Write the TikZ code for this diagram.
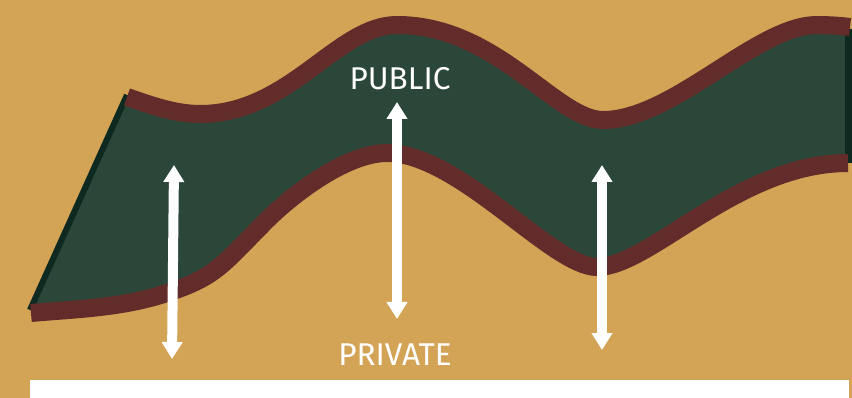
\documentclass[tikz,border=0pt]{standalone}
\usepackage{fontspec}
\setmainfont{Fira Sans}
\usetikzlibrary{arrows.meta}
\definecolor{bgtan}{HTML}{D3A356}
\definecolor{ribbongreen}{HTML}{2A4739}
\definecolor{bandred}{HTML}{612C29}
\definecolor{edgedark}{HTML}{0E2920}
\tikzset{
  band/.style={draw=bandred, line width=18pt},
  edge/.style={draw=edgedark, line width=6pt},
  updown/.style={draw=white, line width=10pt,
    {Triangle[width=20pt,length=17pt]}-{Triangle[width=20pt,length=17pt]}},
  lbl/.style={text=white, inner sep=0pt, font=\fontsize{31.5}{38}\selectfont}}
% upper and lower rim of the ribbon
\newcommand{\upperrim}{(127,97) .. controls (150,105) and (175,114) .. (200,114)
  .. controls (290,114) and (337,25) .. (397,25)
  .. controls (497,25) and (556,120) .. (603,120)
  .. controls (673,120) and (757,25) .. (817,25)
  .. controls (830,25) and (842,26) .. (850,27)}
\newcommand{\lowerrim}{(848,163) .. controls (738,163) and (650,267) .. (597,267)
  .. controls (552,267) and (459,153) .. (387,153)
  .. controls (345,153) and (290,197) .. (267,220)
  .. controls (222,265) and (217,276.5) .. (167,293)
  .. controls (122,308) and (76,309) .. (31,313)}

\begin{document}
\begin{tikzpicture}[x=1pt, y=-1pt]
\useasboundingbox (0,0) rectangle (852,398);
\fill[bgtan] (0,0) rectangle (852,398);
% ribbon
\fill[ribbongreen] \upperrim -- \lowerrim -- cycle;
\draw[edge] (127,95) -- (30,310);
\fill[edgedark] (845,29) rectangle (852,163);
\draw[band] \upperrim;
\draw[band] \lowerrim;

\fill[white] (30,380) rectangle (849,398);

\node[lbl] (public) at (400,79) {PUBLIC};
\node[lbl] (private) at (395,355) {PRIVATE};

\coordinate (a1t) at (174,165);
\coordinate (a1b) at (172,359);
\coordinate (a2t) at (397,102);
\coordinate (a2b) at (397,319);
\coordinate (a3t) at (602,165);
\coordinate (a3b) at (602,350);
\draw[updown] (a1t) -- (a1b);
\draw[updown] (a2t) -- (a2b);
\draw[updown] (a3t) -- (a3b);
\end{tikzpicture}
\end{document}
